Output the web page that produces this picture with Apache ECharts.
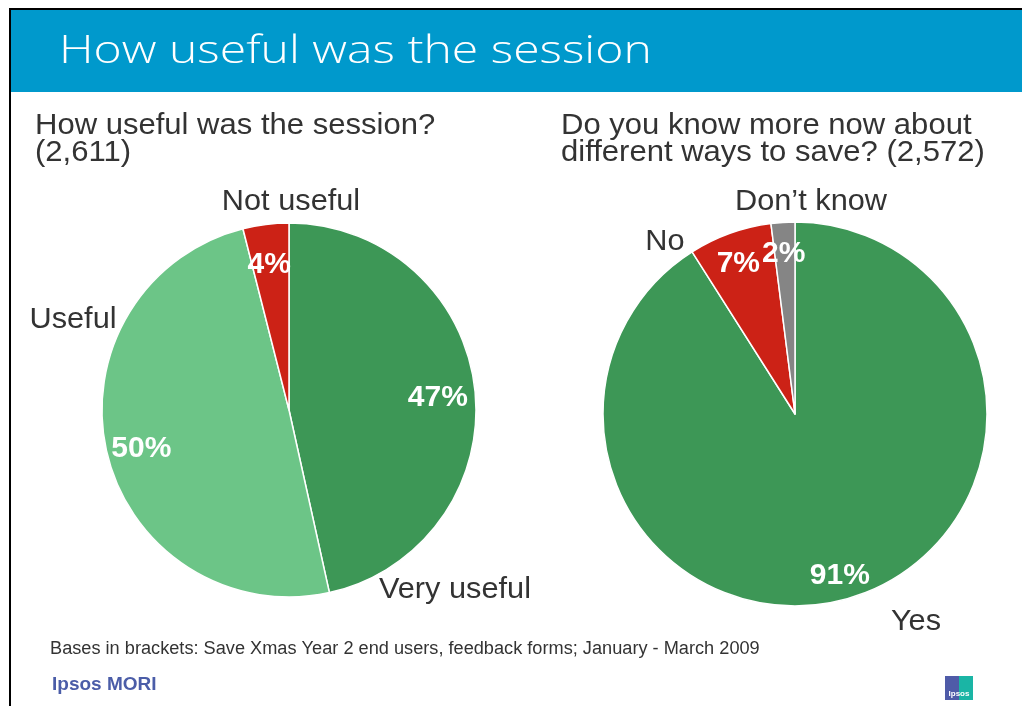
<!DOCTYPE html>
<html>
<head>
<meta charset="utf-8">
<script src="https://cdn.jsdelivr.net/npm/echarts@6/dist/echarts.min.js"></script>
<style>
  html, body { margin: 0; padding: 0; background: #ffffff; }
  #chart { width: 1022px; height: 706px; }
</style>
</head>
<body>
<div id="chart"></div>
<script>
// Survey answers, one pie per question (values in percent)
const usefulCategories = ['Very useful', 'Useful', 'Not useful'];
const usefulValues = [47, 50, 4];
const knowCategories = ['Yes', 'No', 'Don\u2019t know'];
const knowValues = [91, 7, 2];

const usefulColors = ['#3d9756', '#6cc587', '#cc2216'];
const knowColors = ['#3d9756', '#cc2216', '#858585'];

const pageTitle = 'How useful was the session';
const usefulQuestion = 'How useful was the session?\n(2,611)';
const knowQuestion = 'Do you know more now about\ndifferent ways to save? (2,572)';
const footnote = 'Bases in brackets: Save Xmas Year 2 end users, feedback forms; January - March 2009';
const brand = 'Ipsos MORI';

const FONT = '"Liberation Sans", Arial, sans-serif';
const TEXT = '#333333';

// pie geometry
const pie1 = { cx: 289, cy: 410, r: 187 };
const pie2 = { cx: 795, cy: 414, r: 192 };

// where each category name sits around its pie
const usefulNamePos = [[455, 590], [73, 320], [291, 202]];
const knowNamePos = [[916, 622], [665, 242], [811, 202]];

function slices(names, values, colors) {
  return names.map((n, i) => ({ name: n, value: values[i], itemStyle: { color: colors[i] } }));
}

function mainPie(p, names, values, colors) {
  return {
    type: 'pie',
    center: [p.cx, p.cy],
    radius: [0, p.r],
    startAngle: 90,
    clockwise: true,
    animation: false,
    silent: true,
    label: { show: false },
    labelLine: { show: false },
    itemStyle: { borderColor: '#ffffff', borderWidth: 1.5 },
    data: slices(names, values, colors)
  };
}

// transparent ring carrying the percentage labels at its mid radius
function labelRing(p, inner, names, values) {
  return {
    type: 'pie',
    center: [p.cx, p.cy],
    radius: [p.r * inner, p.r],
    startAngle: 90,
    clockwise: true,
    animation: false,
    silent: true,
    z: 5,
    itemStyle: { color: 'rgba(0,0,0,0)', borderWidth: 0 },
    labelLine: { show: false },
    label: {
      show: true,
      position: 'inside',
      formatter: '{c}%',
      color: '#ffffff',
      fontFamily: FONT,
      fontWeight: 'bold',
      fontSize: 30,
      offset: [-1, 4]
    },
    data: names.map((n, i) => ({ name: n, value: values[i] }))
  };
}

function nameTexts(names, positions) {
  return names.map((n, i) => ({
    type: 'text',
    x: positions[i][0],
    y: positions[i][1],
    z: 10,
    scaleX: 1.06,
    style: {
      text: n,
      fontFamily: FONT,
      fontSize: 29,
      fill: TEXT,
      align: 'center',
      verticalAlign: 'middle'
    }
  }));
}

function questionText(x, text) {
  return {
    type: 'text', x: x, y: 112, z: 10, scaleX: 1.07,
    style: { text: text, fontFamily: FONT, fontSize: 29, lineHeight: 27, fill: TEXT, verticalAlign: 'top' }
  };
}

const chart = echarts.init(document.getElementById('chart'), null, { renderer: 'canvas' });

chart.setOption({
  backgroundColor: '#ffffff',
  animation: false,
  series: [
    mainPie(pie1, usefulCategories, usefulValues, usefulColors),
    labelRing(pie1, 0.58, usefulCategories, usefulValues),
    mainPie(pie2, knowCategories, knowValues, knowColors),
    labelRing(pie2, 0.68, knowCategories, knowValues)
  ],
  graphic: [
    // header band and frame
    { type: 'rect', shape: { x: 10, y: 10, width: 1012, height: 82 }, style: { fill: '#0099cc' }, z: 0 },
    { type: 'line', shape: { x1: 9, y1: 9, x2: 1022, y2: 9 }, style: { stroke: '#000000', lineWidth: 2 } },
    { type: 'line', shape: { x1: 10, y1: 9, x2: 10, y2: 706 }, style: { stroke: '#000000', lineWidth: 2 } },
    {
      type: 'text', x: 59, y: 52, z: 10, scaleX: 1.265,
      style: { text: pageTitle, fontFamily: '"Open Sans", sans-serif', fontWeight: 300, fontSize: 38, fill: '#ffffff', verticalAlign: 'middle' }
    },
    questionText(35, usefulQuestion),
    questionText(561, knowQuestion),
    ...nameTexts(usefulCategories, usefulNamePos),
    ...nameTexts(knowCategories, knowNamePos),
    {
      type: 'text', x: 50, y: 649, z: 10, scaleX: 1.01,
      style: { text: footnote, fontFamily: FONT, fontSize: 18, fill: TEXT, verticalAlign: 'middle' }
    },
    {
      type: 'text', x: 52, y: 685, z: 10,
      style: { text: brand, fontFamily: FONT, fontWeight: 'bold', fontSize: 19, fill: '#4b5da8', verticalAlign: 'middle' }
    },
    // small brand mark, bottom right
    { type: 'rect', shape: { x: 945, y: 676, width: 14, height: 24 }, style: { fill: '#4f5ba8' } },
    { type: 'rect', shape: { x: 959, y: 676, width: 14, height: 24 }, style: { fill: '#1ab5a5' } },
    {
      type: 'text', x: 959, y: 694, z: 10,
      style: { text: 'Ipsos', fontFamily: FONT, fontWeight: 'bold', fontSize: 8, fill: '#ffffff', align: 'center', verticalAlign: 'middle' }
    }
  ]
});
</script>
</body>
</html>
